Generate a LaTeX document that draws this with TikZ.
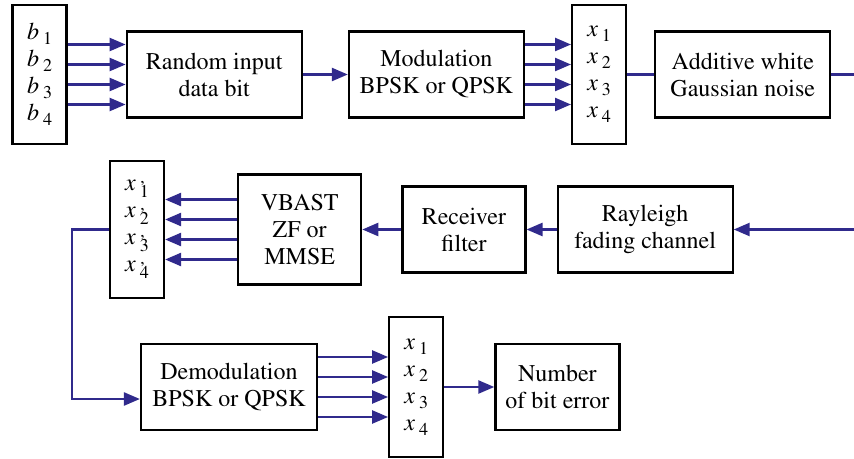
\documentclass[tikz,border=0pt]{standalone}
\usepackage[T1]{fontenc}
\usepackage{mathptmx}
\usepackage{tikz}
\usepackage{xcolor}
\usetikzlibrary{positioning,arrows.meta}

\definecolor{flow}{RGB}{48,42,140}

% symbol with subscript, and primed version
\newcommand{\vsub}[2]{\textit{#1}\,\raisebox{-0.45ex}{\small #2}}
\newcommand{\vsubp}[2]{\textit{#1}\,\makebox[0pt][l]{\raisebox{-0.2ex}{\small\textquoteright}}\raisebox{-0.6ex}{\small #2}}

\begin{document}
\begin{tikzpicture}[
  font=\fontsize{12}{13.5}\selectfont,
  box/.style={draw, line width=1.1pt, align=center, inner sep=2pt, fill=white},
  blk/.style={box, minimum width=87.5pt, minimum height=43pt},
  sblk/.style={box, minimum width=61.5pt, minimum height=43pt},
  vec/.style={box, minimum width=27pt, minimum height=69.5pt},
  arr/.style={-{Triangle[length=8pt, width=6.5pt]}, flow, line width=1.2pt},
  wire/.style={flow, line width=1.2pt}]

\useasboundingbox (0,0) rectangle (427pt,-229.5pt);
\coordinate (edgeR) at (427pt,0);

% transmitter (top row)
\node[vec] (bin) at (19.75pt,-37.25pt) {\vsub{b}{1}\\\vsub{b}{2}\\\vsub{b}{3}\\\vsub{b}{4}};
\node[blk, right=29pt of bin] (rand) {Random input\\data bit};
\node[blk, right=22.5pt of rand] (mod) {Modulation\\BPSK or QPSK};
\node[vec, right=23pt of mod] (xtx) {\vsub{x}{1}\\\vsub{x}{2}\\\vsub{x}{3}\\\vsub{x}{4}};
\node[blk, right=13.5pt of xtx] (awgn) {Additive white\\Gaussian noise};

% channel / receiver (middle row)
\node[vec, minimum height=68.5pt] (xrx) at (68.5pt,-114.75pt)
  {\vsubp{x}{1}\\\vsubp{x}{2}\\\vsubp{x}{3}\\\vsubp{x}{4}};
\node[sblk, minimum height=55pt, right=36pt of xrx] (vblast) {VBAST\\ZF or\\MMSE};
\node[sblk, right=19.5pt of vblast] (rxf) {Receiver\\filter};
\node[blk, right=15pt of rxf] (ray) {Rayleigh\\fading channel};

% detection (bottom row)
\node[blk, minimum width=88pt] (demod) at (114.5pt,-193.5pt) {Demodulation\\BPSK or QPSK};
\node[vec, minimum height=70pt, right=35pt of demod] (xdet) {\vsub{x}{1}\\\vsub{x}{2}\\\vsub{x}{3}\\\vsub{x}{4}};
\node[sblk, minimum width=62pt, right=25pt of xdet] (nbe) {Number\\of bit error};

% edges
\foreach \dy in {15,5,-5,-15} {
  \draw[arr] ([yshift=\dy pt]bin.east) -- ([yshift=\dy pt]rand.west);
  \draw[arr] ([yshift=\dy pt]mod.east) -- ([yshift=\dy pt]xtx.west);
  \draw[arr] ([yshift=\dy pt]vblast.west) -- ([yshift=\dy pt]xrx.east);
  \draw[arr] ([yshift=\dy pt]demod.east) -- ([yshift=\dy pt]xdet.west);
}
\draw[arr] (rand) -- (mod);
\draw[wire] (xtx) -- (awgn);
\draw[wire] (awgn.east) -- (awgn.east -| edgeR);
\draw[arr] (ray.east -| edgeR) -- (ray);
\draw[arr] (ray) -- (rxf);
\draw[arr] (rxf) -- (vblast);
\draw[arr] (xrx.west) -- ++(-18.5pt,0) |- ([yshift=-6pt]demod.west);
\draw[arr] (xdet) -- (nbe);
\end{tikzpicture}
\end{document}
